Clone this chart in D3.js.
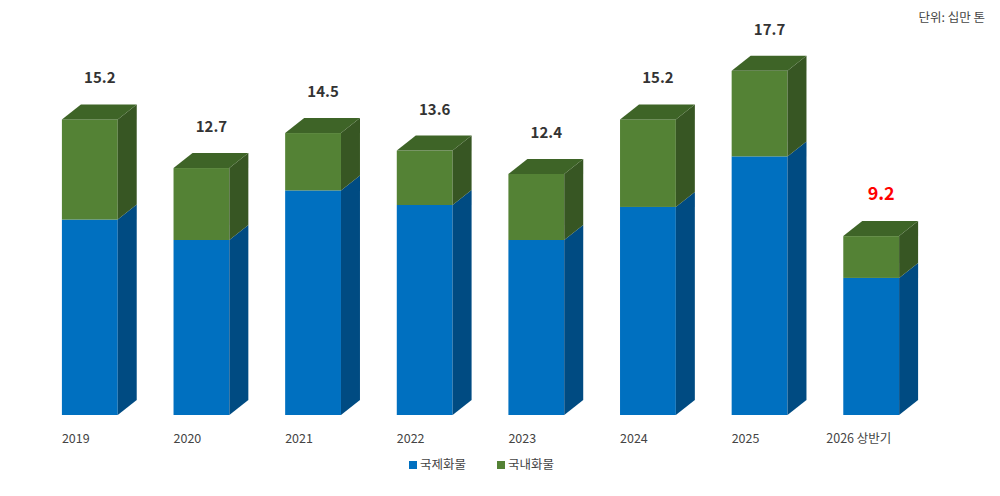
<!DOCTYPE html>
<html><head><meta charset="utf-8">
<script src="https://cdn.jsdelivr.net/npm/d3@7"></script>
<style>body{margin:0;background:#fff;font-family:"Noto Sans CJK KR","Noto Sans",sans-serif}</style>
</head><body><svg id="c" width="1000" height="496"></svg>
<script>
const categories=["2019","2020","2021","2022","2023","2024","2025","2026 상반기"];
const international=[10.05,9.0,11.55,10.8,9.0,10.7,13.3,7.05];
const domestic=[5.15,3.7,2.95,2.8,3.4,4.5,4.4,2.15];
const totals=["15.2","12.7","14.5","13.6","12.4","15.2","17.7","9.2"];
const seriesNames=["국제화물","국내화물"];
const svg=d3.select("#c");
const x=d3.scaleBand().domain(categories).range([34,927]).paddingInner(0.5).paddingOuter(0.25);
const y=d3.scaleLinear().domain([0,18]).range([415,65]);
const dx=19,dy=15,w=x.bandwidth();
const cols=[{f:"#0070c0",s:"#004b82",t:"#005ea3"},{f:"#548235",s:"#375623",t:"#3e6427"}];
categories.forEach((c,i)=>{
  const x0=x(c);let base=0;
  [international[i],domestic[i]].forEach((v,k)=>{
    const yb=y(base),yt=y(base+v);const col=cols[k];
    svg.append("rect").attr("x",x0).attr("y",yt).attr("width",w).attr("height",yb-yt).attr("fill",col.f);
    svg.append("path").attr("d",`M${x0+w},${yt}L${x0+w+dx},${yt-dy}L${x0+w+dx},${yb-dy}L${x0+w},${yb}Z`).attr("fill",col.s);
    if(k===1) svg.append("path").attr("d",`M${x0},${yt}L${x0+dx},${yt-dy}L${x0+w+dx},${yt-dy}L${x0+w},${yt}Z`).attr("fill",col.t);
    base+=v;
  });
  const last=i===categories.length-1;
  svg.append("text").attr("x",x0+w/2+10).attr("y",y(base)-36).attr("text-anchor","middle")
    .attr("font-size",last?18:15).attr("font-weight","bold").attr("fill",last?"#ff0000":"#333").text(totals[i]);
  svg.append("text").attr("x",x0+(last?-17:0)).attr("y",443).attr("font-size",12.5).attr("fill","#444").text(c);
});
svg.append("text").attr("x",985).attr("y",22).attr("text-anchor","end").attr("font-size",12.5).attr("fill","#444").text("단위: 십만 톤");
const lg=svg.append("g");
[[409,0],[497,1]].forEach(([lx,k])=>{
  lg.append("rect").attr("x",lx).attr("y",461).attr("width",8).attr("height",8).attr("fill",cols[k].f);
  lg.append("text").attr("x",lx+11).attr("y",469).attr("font-size",12.5).attr("fill","#444").text(seriesNames[k]);
});
</script></body></html>
